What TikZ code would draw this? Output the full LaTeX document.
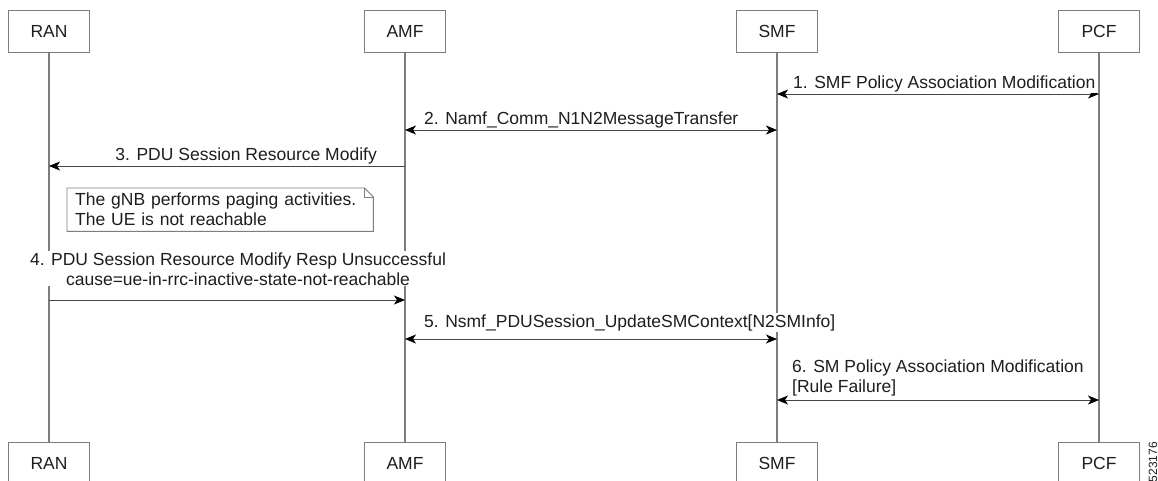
\documentclass[tikz,border=0pt]{standalone}
\usepackage{fontspec}
\setmainfont{Liberation Sans}
\usepackage{xcolor}
\usetikzlibrary{positioning,arrows.meta,calc}
\definecolor{sLine}{RGB}{125,125,125}
\definecolor{sMsg}{RGB}{70,70,70}
\definecolor{sText}{RGB}{30,30,30}
\tikzset{
  actor/.style={rectangle, draw=sLine, fill=white, line width=0.9pt,
                minimum width=81pt, minimum height=42pt, inner sep=0pt,
                font=\fontsize{17.5}{20}\selectfont, text=sText},
  lifeline/.style={draw=sLine, line width=1.1pt},
  msg/.style={-{Stealth[length=11pt,width=9pt,inset=3pt,color=black]},
              draw=sMsg, line width=0.9pt},
  bimsg/.style={{Stealth[length=11pt,width=9pt,inset=3pt,color=black]}-%
                {Stealth[length=11pt,width=9pt,inset=3pt,color=black]},
                draw=sMsg, line width=0.9pt},
  lbl/.style={font=\fontsize{17.5}{20}\selectfont, text=sText, fill=white,
              inner sep=1pt},
  notebox/.style={lbl, text width=290pt, inner xsep=8pt, inner ysep=0pt,
                  minimum height=43pt, align=left},
  tag/.style={font=\fontsize{12}{14}\selectfont, text=sText, rotate=90,
              inner sep=0pt},
}

\begin{document}
\begin{tikzpicture}[x=1pt, y=-1pt]
  \useasboundingbox (0,0) rectangle (1158,480);
  % participants
  \node[actor] (ran) at (49,31) {RAN};
  \node[actor] (amf) at (405,31) {AMF};
  \node[actor] (smf) at (777,31) {SMF};
  \node[actor] (pcf) at (1099,31) {PCF};
  \node[actor] (ran-b) at (49,463) {RAN};
  \node[actor] (amf-b) at (405,463) {AMF};
  \node[actor] (smf-b) at (777,463) {SMF};
  \node[actor] (pcf-b) at (1099,463) {PCF};
  \foreach \p in {ran,amf,smf,pcf}
    \draw[lifeline] (\p) -- (\p-b);

  % messages
  \draw[bimsg] (smf |- 0,94) -- (pcf |- 0,94);
  \node[lbl, anchor=base west] (m1) at (792,88)
       {1. SMF Policy Association Modification};

  \draw[bimsg] (amf |- 0,130) -- (smf |- 0,130);
  \node[lbl, anchor=base west] (m2) at (423,124)
       {2. Namf\_Comm\_N1N2MessageTransfer};

  \draw[msg] (amf |- 0,166) -- (ran |- 0,166);
  \node[lbl, anchor=base east] (m3) at (378,160)
       {3. PDU Session Resource Modify};

  \node[notebox, anchor=north west] (gnb) at (67,188)
       {The gNB performs paging activities.\\The UE is not reachable};
  \draw[draw=sLine, line width=0.9pt]
       (gnb.north west) -- ([xshift=-9pt]gnb.north east)
       -- ([yshift=-9pt]gnb.north east) -- (gnb.south east)
       -- (gnb.south west) -- cycle;
  \draw[draw=sLine, line width=0.7pt]
       ([xshift=-9pt]gnb.north east) |- ([yshift=-9pt]gnb.north east);

  \draw[msg] (ran |- 0,300) -- (amf |- 0,300);
  \node[lbl, align=center, anchor=base] (m4) at (238,285)
       {4. PDU Session Resource Modify Resp Unsuccessful\\
        cause=ue-in-rrc-inactive-state-not-reachable};

  \draw[bimsg] (amf |- 0,339) -- (smf |- 0,339);
  \node[lbl, anchor=base west] (m5) at (423,327)
       {5. Nsmf\_PDUSession\_UpdateSMContext[N2SMInfo]};

  \draw[bimsg] (smf |- 0,400) -- (pcf |- 0,400);
  \node[lbl, align=left, anchor=base west] (m6) at (791,392)
       {6. SM Policy Association Modification\\{}[Rule Failure]};

  \node[tag, anchor=east] (fig) at (1153,442) {523176};
\end{tikzpicture}
\end{document}
